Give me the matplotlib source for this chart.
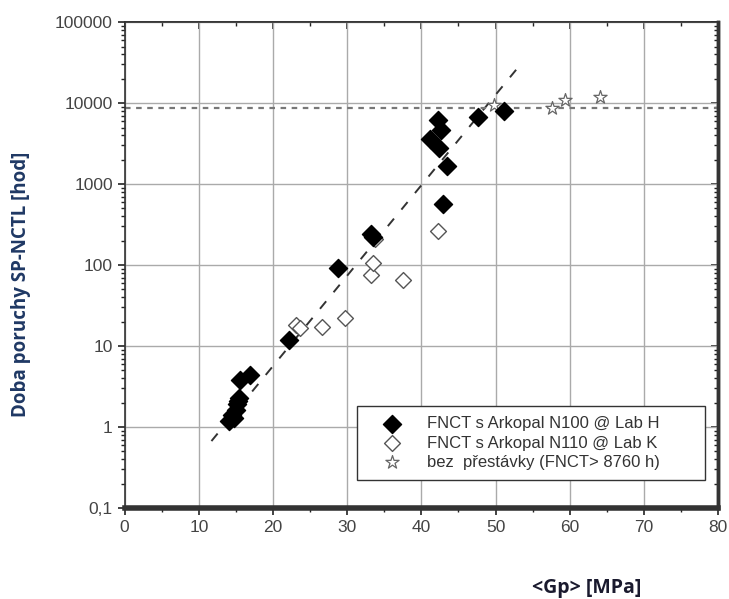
import numpy as np
import matplotlib
matplotlib.use("Agg")
import matplotlib.pyplot as plt
from matplotlib.ticker import FixedLocator, LogLocator, NullFormatter

# data
gp_h = [14.0, 14.5, 14.8, 15.0, 15.2, 15.3, 15.4, 15.5, 16.9, 22.2,
        28.8, 33.2, 33.5, 41.2, 42.2, 42.4, 42.6, 42.9, 43.5, 47.6, 51.1]
t_h = [1.2, 1.4, 1.3, 1.6, 1.9, 2.1, 2.3, 3.8, 4.4, 12.0,
       92, 240, 220, 3600, 6200, 2800, 4700, 570, 1650, 6800, 8000]

gp_k = [23.1, 23.6, 26.6, 29.7, 33.2, 33.5, 33.8, 37.5, 42.3]
t_k = [18, 16.5, 17, 22, 75, 105, 210, 65, 265]

gp_run = [49.8, 57.6, 59.4, 64.1]
t_run = [9400, 8800, 11000, 12000]

fit_x = [11.7, 53.2]
fit_y = [0.67, 28800]
limit_h = 8760

lab_h = "FNCT s Arkopal N100 @ Lab H"
lab_k = "FNCT s Arkopal N110 @ Lab K"
lab_run = "bez  přestávky (FNCT> 8760 h)"

narrow = ["Liberation Sans Narrow", "Liberation Sans", "DejaVu Sans"]

fig = plt.figure(figsize=(7.29, 5.99), dpi=100)
ax = fig.add_axes([0.171, 0.152, 0.814, 0.811])

ax.plot(fit_x, fit_y, color="#333333", ls=(0, (5, 6)), lw=1.4, zorder=2)
ax.axhline(limit_h, color="#777777", ls=(0, (2.5, 2.5)), lw=1.6, zorder=2)

ax.scatter(gp_h, t_h, marker="D", s=85, color="black", zorder=4, label=lab_h)
ax.scatter(gp_k, t_k, marker="D", s=65, facecolor="white", edgecolor="#555555",
           lw=1.0, zorder=3, label=lab_k)
ax.scatter(gp_run, t_run, marker="*", s=100, facecolor="white", edgecolor="#666666",
           lw=0.9, zorder=3, label=lab_run)

ax.set_yscale("log")
ax.set_xlim(0, 80)
ax.set_ylim(0.1, 100000)

xmaj = np.arange(0, 81, 10)
xmin = np.arange(5, 80, 10)
ymaj = [0.1, 1, 10, 100, 1000, 10000, 100000]

ax.xaxis.set_major_locator(FixedLocator(xmaj))
ax.xaxis.set_minor_locator(FixedLocator(xmin))
ax.yaxis.set_minor_locator(LogLocator(base=10, subs=np.arange(2, 10), numticks=20))
ax.yaxis.set_minor_formatter(NullFormatter())
ax.set_yticks(ymaj)
ax.set_yticklabels(["0,1", "1", "10", "100", "1000", "10000", "100000"])

ax.grid(True, which="major", color="#aaaaaa", lw=1.0)
ax.set_axisbelow(True)

ax.tick_params(which="both", direction="out", colors="#222222",
               labelcolor="#444444", labelsize=12.5)
ax.tick_params(which="major", length=5, width=1.2)
ax.tick_params(which="minor", length=3, width=1.0)
for lbl in ax.get_xticklabels() + ax.get_yticklabels():
    lbl.set_family(narrow)

# inward ticks on top and right
top = ax.secondary_xaxis("top")
top.xaxis.set_major_locator(FixedLocator(xmaj))
top.xaxis.set_minor_locator(FixedLocator(xmin))
top.tick_params(which="both", direction="in", labeltop=False, colors="#222222")
top.tick_params(which="major", length=5, width=1.2)
top.tick_params(which="minor", length=3, width=1.0)
right = ax.secondary_yaxis("right")
right.set_yticks(ymaj)
right.yaxis.set_minor_locator(LogLocator(base=10, subs=np.arange(2, 10), numticks=20))
right.tick_params(which="both", direction="in", labelright=False, colors="#222222")
right.tick_params(which="major", length=5, width=1.2)
right.tick_params(which="minor", length=3, width=1.0)
top.spines["top"].set_linewidth(1.2)
right.spines["right"].set_linewidth(2.5)

ax.spines["bottom"].set_linewidth(4)
ax.spines["right"].set_linewidth(2.5)
ax.spines["left"].set_linewidth(1.2)
ax.spines["top"].set_linewidth(1.2)
for s in list(ax.spines.values()) + [top.spines["top"], right.spines["right"]]:
    s.set_color("#333333")

leg = ax.legend(loc="lower left", bbox_to_anchor=(0.392, 0.058, 0.586, 0.158),
                mode="expand", frameon=True, fancybox=False, edgecolor="#333333",
                framealpha=1, prop={"family": narrow, "size": 12},
                labelcolor="#333333", handlelength=3.0, handletextpad=0.6,
                borderpad=0.6, labelspacing=0.25, borderaxespad=0)
leg.get_frame().set_linewidth(1.0)

fig.text(0.029, 0.526, "Doba poruchy SP-NCTL [hod]", rotation=90, ha="center",
         va="center", fontsize=13.5, fontweight="bold", color="#1f3864",
         family=["Open Sans", "DejaVu Sans"])
fig.text(0.805, 0.018, "<Gp> [MPa]", ha="center", va="center", fontsize=14,
         fontweight="bold", color="#1a1a2e", family=["Open Sans", "DejaVu Sans"])

fig.savefig("out.png", dpi=100)
